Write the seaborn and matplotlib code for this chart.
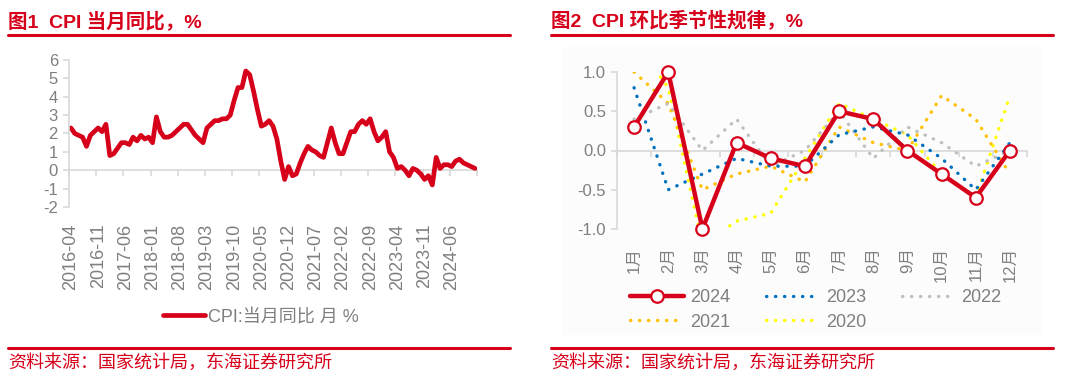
import numpy as np
import pandas as pd
import matplotlib
matplotlib.use("Agg")
import matplotlib.pyplot as plt
from matplotlib.patches import Rectangle
from matplotlib.lines import Line2D
import seaborn as sns

# ---------------- data ----------------
start_month = "2016-04"
cpi_yoy = [
    2.3, 2.0, 1.9, 1.8, 1.3, 1.9, 2.1, 2.3, 2.1,                      # 2016 Apr-Dec
    2.5, 0.8, 0.9, 1.2, 1.5, 1.5, 1.4, 1.8, 1.6, 1.9, 1.7, 1.8,       # 2017
    1.5, 2.9, 2.1, 1.8, 1.8, 1.9, 2.1, 2.3, 2.5, 2.5, 2.2, 1.9,       # 2018
    1.7, 1.5, 2.3, 2.5, 2.7, 2.7, 2.8, 2.8, 3.0, 3.8, 4.5, 4.5,       # 2019
    5.4, 5.2, 4.3, 3.3, 2.4, 2.5, 2.7, 2.4, 1.7, 0.5, -0.5, 0.2,      # 2020
    -0.3, -0.2, 0.4, 0.9, 1.3, 1.1, 1.0, 0.8, 0.7, 1.5, 2.3, 1.5,     # 2021
    0.9, 0.9, 1.5, 2.1, 2.1, 2.5, 2.7, 2.5, 2.8, 2.1, 1.6, 1.8,       # 2022
    2.1, 1.0, 0.7, 0.1, 0.2, 0.0, -0.3, 0.1, 0.0, -0.2, -0.5, -0.3,   # 2023
    -0.8, 0.7, 0.1, 0.3, 0.3, 0.2, 0.5, 0.6, 0.4, 0.3, 0.2, 0.1,      # 2024
]
left_tick_labels = ["2016-04", "2016-11", "2017-06", "2018-01", "2018-08", "2019-03",
                    "2019-10", "2020-05", "2020-12", "2021-07", "2022-02", "2022-09",
                    "2023-04", "2023-11", "2024-06"]
left_series_name = "CPI:当月同比 月 %"

months = ["1月", "2月", "3月", "4月", "5月", "6月", "7月", "8月", "9月", "10月", "11月", "12月"]
mom_2024 = [0.3, 1.0, -1.0, 0.1, -0.1, -0.2, 0.5, 0.4, 0.0, -0.3, -0.6, 0.0]
mom_2023 = [0.8, -0.5, -0.3, -0.1, -0.2, -0.2, 0.2, 0.3, 0.2, -0.1, -0.5, 0.1]
mom_2022 = [0.4, 0.6, 0.0, 0.4, -0.2, 0.0, 0.5, -0.1, 0.3, 0.1, -0.2, 0.0]
mom_2021 = [1.0, 0.6, -0.5, -0.3, -0.2, -0.4, 0.3, 0.1, 0.0, 0.7, 0.4, -0.3]
mom_2020 = [1.4, 0.8, -1.2, -0.9, -0.8, -0.1, 0.6, 0.4, 0.2, -0.3, -0.6, 0.7]

title1 = "图1  CPI 当月同比，%"
title2 = "图2  CPI 环比季节性规律，%"
source = "资料来源：国家统计局，东海证券研究所"

# ---------------- style ----------------
sns.set_theme(style="white")
plt.rcParams["font.family"] = ["Liberation Sans", "Noto Sans CJK SC"]
plt.rcParams["axes.unicode_minus"] = False

RED = "#D7001A"
GREY_AX = "#D9D9D9"
GREY_TX = "#7F7F7F"
W, H = 1080, 385

fig = plt.figure(figsize=(W / 100, H / 100), dpi=100)
fig.patch.set_facecolor("white")

def fx(px):
    return px / W

def fy(py):
    return 1 - py / H

# right panel faint background
fig.patches.append(Rectangle((fx(562), fy(335)), fx(1042) - fx(562), fy(47) - fy(335),
                             transform=fig.transFigure, facecolor="#FCFCFC",
                             edgecolor="none", zorder=-5))

# titles, rules and sources
for x0, x1, title in [(8, 510, title1), (551, 1053, title2)]:
    fig.text(fx(x0), fy(21), title, color=RED, fontsize=14, fontweight="bold",
             ha="left", va="center", family=["Liberation Sans", "Noto Sans CJK SC"])
    fig.add_artist(Line2D([fx(x0), fx(x1)], [fy(35), fy(35)], color=RED, lw=2.2,
                          transform=fig.transFigure))
    fig.add_artist(Line2D([fx(x0), fx(x1)], [fy(348), fy(348)], color=RED, lw=2.2,
                          transform=fig.transFigure))
    fig.text(fx(x0), fy(363), source, color=RED, fontsize=13,
             ha="left", va="center", family=["Noto Sans CJK SC"])


def style_axes(ax, ymin, ymax, boundaries):
    ax.set_facecolor("none")
    ax.patch.set_alpha(0)
    for s in ["top", "right", "bottom"]:
        ax.spines[s].set_visible(False)
    ax.spines["left"].set_color(GREY_AX)
    ax.spines["left"].set_linewidth(1.2)
    ax.tick_params(axis="y", direction="out", length=4, width=1.2, color=GREY_AX,
                   labelcolor=GREY_TX, labelsize=12, pad=4, left=True)
    ax.tick_params(axis="x", length=0, labelcolor=GREY_TX, pad=12)
    ax.grid(False)
    loc = min((0 - ymin) / (ymax - ymin), 0.4999)
    sec = ax.secondary_xaxis(loc)
    sec.set_xticks(boundaries)
    sec.xaxis.set_ticks_position("bottom")
    sec.tick_params(axis="x", direction="out", length=4, width=1.2, color=GREY_AX,
                    labelbottom=False, labeltop=False, top=False, bottom=True)
    sec.spines["bottom"].set_color(GREY_AX)
    sec.spines["bottom"].set_linewidth(1.2)
    for s in ["top", "left", "right"]:
        sec.spines[s].set_visible(False)


# ---------------- left chart ----------------
ax1 = fig.add_axes([fx(69), fy(207), fx(477) - fx(69), fy(60) - fy(207)])
n = len(cpi_yoy)
df1 = pd.DataFrame({"idx": np.arange(n), "val": cpi_yoy})
sns.lineplot(data=df1, x="idx", y="val", ax=ax1, color=RED, lw=3.4,
             solid_joinstyle="round", solid_capstyle="round")
ax1.set_xlim(-0.5, n - 0.5)
ax1.set_ylim(-2, 6)
ax1.set_yticks(range(-2, 7))
ax1.set_xticks(np.arange(0, 7 * len(left_tick_labels), 7))
ax1.set_xticklabels(left_tick_labels, rotation=90, fontsize=13)
style_axes(ax1, -2, 6, np.arange(-0.5, n, 7))
ax1.set_xlabel("")
ax1.set_ylabel("")

fig.legend(handles=[Line2D([], [], color=RED, lw=3.4)], labels=[left_series_name],
           loc="center", bbox_to_anchor=(fx(261), fy(317)), frameon=False,
           fontsize=13, handlelength=2.3, handletextpad=0.2, labelcolor=GREY_TX)

# ---------------- right chart ----------------
ax2 = fig.add_axes([fx(617), fy(229), fx(1027) - fx(617), fy(72) - fy(229)])
mx = np.arange(len(months))
dot = (0, (0.1, 2.6))
series = [
    ("2020", mom_2020, "#FFFF00"),
    ("2021", mom_2021, "#FFC000"),
    ("2022", mom_2022, "#BFBFBF"),
    ("2023", mom_2023, "#0070C0"),
]
handles = {}
for name, vals, col in series:
    sns.lineplot(x=mx, y=vals, ax=ax2, color=col, lw=2.4, linestyle=dot,
                 dash_capstyle="round")
    handles[name] = Line2D([], [], color=col, lw=2.4, linestyle=dot, dash_capstyle="round")

sns.lineplot(x=mx, y=mom_2024, ax=ax2, color=RED, lw=3.2, marker="o", markersize=9,
             markerfacecolor="white", markeredgecolor=RED, markeredgewidth=1.6,
             clip_on=False, zorder=5)
handles["2024"] = Line2D([], [], color=RED, lw=3.2, marker="o", markersize=9,
                         markerfacecolor="white", markeredgecolor=RED, markeredgewidth=1.6)

ax2.set_xlim(-0.5, len(months) - 0.5)
ax2.set_ylim(-1, 1)
ax2.set_yticks([-1.0, -0.5, 0.0, 0.5, 1.0])
ax2.set_yticklabels([f"{v:.1f}" for v in [-1.0, -0.5, 0.0, 0.5, 1.0]])
ax2.set_xticks(mx)
ax2.set_xticklabels(months, rotation=90, fontsize=12)
style_axes(ax2, -1, 1, np.arange(-0.5, len(months), 1))
ax2.tick_params(axis="x", pad=13)
ax2.set_xlabel("")
ax2.set_ylabel("")

order = ["2024", "2021", "2023", "2020", "2022"]
fig.legend(handles=[handles[k] for k in order], labels=order, ncol=3,
           loc="center", bbox_to_anchor=(fx(816), fy(310)), frameon=False,
           fontsize=13, handlelength=3.0, handletextpad=0.3, columnspacing=2.0,
           labelspacing=0.4, labelcolor=GREY_TX)

fig.savefig("out.png", dpi=100, facecolor="white")
